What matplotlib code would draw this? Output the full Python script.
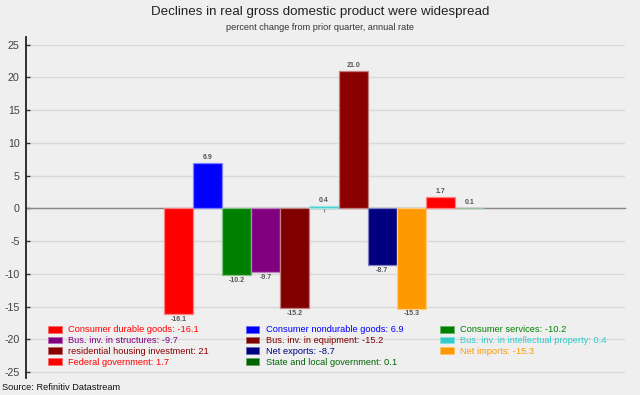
import matplotlib
matplotlib.use("Agg")
import matplotlib.pyplot as plt
from matplotlib.patches import Patch
from matplotlib.colors import to_rgb

plt.rcParams['font.family'] = ['Liberation Sans', 'DejaVu Sans']
plt.rcParams['axes.unicode_minus'] = False

# ---- data ----
categories = [
    "Consumer durable goods", "Consumer nondurable goods", "Consumer services",
    "Bus. inv. in structures", "Bus. inv. in equipment",
    "Bus. inv. in intellectual property", "residential housing investment",
    "Net exports", "Net imports", "Federal government",
    "State and local government",
]
values = [-16.1, 6.9, -10.2, -9.7, -15.2, 0.4, 21.0, -8.7, -15.3, 1.7, 0.1]
colors = ["#ff0000", "#0000ff", "#008000", "#800080", "#800000", "#33cccc",
          "#8b0000", "#000080", "#ff9900", "#ff0000", "#006400"]
yticks = [-25, -20, -15, -10, -5, 0, 5, 10, 15, 20, 25]

title = "Declines in real gross domestic product were widespread"
subtitle = "percent change from prior quarter, annual rate"
source = "Source: Refinitiv Datastream"

BG = "#efefef"


def lighten(c, f=0.5):
    r, g, b = to_rgb(c)
    return (r + (1 - r) * f, g + (1 - g) * f, b + (1 - b) * f)


fig = plt.figure(figsize=(6.4, 3.95), dpi=100, facecolor=BG)
W, H = 640, 395
ax_left, ax_right, ax_top, ax_bot = 26, 625, 36.7, 378
ax = fig.add_axes([ax_left / W, 1 - ax_bot / H, (ax_right - ax_left) / W,
                   (ax_bot - ax_top) / H])
ax.set_facecolor(BG)

xs = list(range(len(values)))
edge_f = [0.5] * len(values)
edge_f[-1] = 0.6
bars = ax.bar(xs, values, width=1.0, color=colors,
              edgecolor=[lighten(c, f) for c, f in zip(colors, edge_f)],
              linewidth=0.9, zorder=3)

for x, v in zip(xs, values):
    off = 3.8 if v >= 0 else -3.8
    ax.annotate(f"{v:.1f}", (x, v), xytext=(0, off), textcoords="offset points",
                ha="center", va="center", fontsize=5.0, color="#555555",
                fontweight="bold", zorder=4)

ax.set_xlim(-5.24, 15.34)
ax.set_ylim(-25.88, 26.2)
ax.set_yticks(yticks)
ax.set_yticklabels([str(t) for t in yticks])
ax.yaxis.grid(True, color="#d9d9d9", linewidth=1.0, zorder=0)
ax.set_axisbelow(True)

ax.tick_params(axis="y", direction="in", length=3, width=1, color="#333333",
               labelsize=7.7, labelcolor="#404040", pad=4.5)
ax.set_xticks([5])
ax.set_xticklabels([""])
ax.tick_params(axis="x", direction="out", length=3, width=0.8, color="#888888")

for s in ("top", "right"):
    ax.spines[s].set_visible(False)
ax.spines["left"].set_color("#222222")
ax.spines["left"].set_linewidth(1.3)
ax.spines["bottom"].set_position(("data", 0))
ax.spines["bottom"].set_color("#888888")
ax.spines["bottom"].set_linewidth(1.0)
ax.spines["bottom"].set_zorder(2)

# legend, row-major ordering in 3 columns
order = [0, 3, 6, 9, 1, 4, 7, 10, 2, 5, 8]
handles = [Patch(facecolor=colors[i], edgecolor=lighten(colors[i], 0.4),
                 linewidth=0.6) for i in order]
labels = [f"{categories[i]}: {values[i]:g}" for i in order]
leg = fig.legend(handles, labels, ncol=3, loc="upper left",
                 bbox_to_anchor=(48 / W, 1 - 325.5 / H), frameon=False,
                 fontsize=6.7, handlelength=1.5, handleheight=0.75,
                 handletextpad=0.65, columnspacing=3.95, labelspacing=0.18,
                 borderpad=0, borderaxespad=0)
for t, i in zip(leg.get_texts(), order):
    t.set_color(colors[i])

fig.text(0.5, 1 - 12 / H, title, ha="center", va="center", fontsize=9.6,
         color="#222222")
fig.text(0.5, 1 - 27 / H, subtitle, ha="center", va="center", fontsize=6.6,
         color="#333333")
fig.text(2 / W, 1 - 387.5 / H, source, ha="left", va="center", fontsize=6.7,
         color="#111111")

fig.savefig("out.png", dpi=100, facecolor=BG)
